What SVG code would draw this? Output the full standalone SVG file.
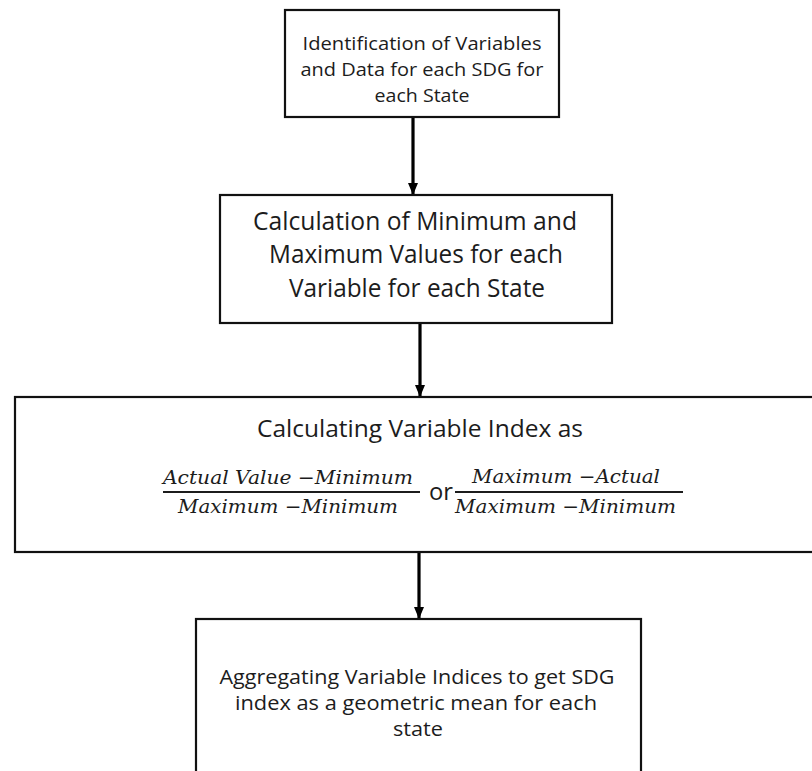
<svg xmlns="http://www.w3.org/2000/svg" width="812" height="771" viewBox="0 0 812 771">
<style>
.box{fill:#fff;stroke:#111;stroke-width:2.2}
.t{font-family:"Open Sans","Noto Sans","Liberation Sans",sans-serif;fill:#1c1c1c;text-anchor:middle}
.m{font-family:"DejaVu Serif","Liberation Serif",serif;font-style:italic;fill:#1c1c1c}
.bar{stroke:#1c1c1c;stroke-width:2}
.conn{stroke:#000;stroke-width:3.2;fill:none}
</style>
<defs>
<marker id="ah" viewBox="0 0 12 10" refX="12" refY="5" markerWidth="12" markerHeight="13" markerUnits="userSpaceOnUse" orient="auto">
<path d="M0,0 L12,5 L0,10 z" fill="#000"/>
</marker>
</defs>
<rect width="812" height="771" fill="#fff"/>
<g id="connectors">
<line class="conn" x1="413" y1="117" x2="413" y2="195" marker-end="url(#ah)"/>
<line class="conn" x1="420" y1="323" x2="420" y2="397" marker-end="url(#ah)"/>
<line class="conn" x1="419" y1="552" x2="419" y2="619" marker-end="url(#ah)"/>
</g>
<g id="node1">
<rect class="box" x="285" y="10" width="274" height="107"/>
<text class="t" font-size="19" x="422" y="50" textLength="239" lengthAdjust="spacingAndGlyphs">Identification of Variables</text>
<text class="t" font-size="19" x="422" y="76" textLength="243" lengthAdjust="spacingAndGlyphs">and Data for each SDG for</text>
<text class="t" font-size="19" x="422" y="102" textLength="95" lengthAdjust="spacingAndGlyphs">each State</text>
</g>
<g id="node2">
<rect class="box" x="220" y="195" width="392" height="128"/>
<text class="t" font-size="25" x="415" y="230" textLength="324" lengthAdjust="spacingAndGlyphs">Calculation of Minimum and</text>
<text class="t" font-size="25" x="416" y="263" textLength="294" lengthAdjust="spacingAndGlyphs">Maximum Values for each</text>
<text class="t" font-size="25" x="417" y="297" textLength="256" lengthAdjust="spacingAndGlyphs">Variable for each State</text>
</g>
<g id="node3">
<rect class="box" x="15" y="397" width="820" height="155"/>
<text class="t" font-size="24" x="420" y="437" textLength="326" lengthAdjust="spacingAndGlyphs">Calculating Variable Index as</text>
<text class="m" font-size="19" x="163" y="484" textLength="250" lengthAdjust="spacingAndGlyphs">Actual  Value −Minimum</text>
<line class="bar" x1="163" y1="492" x2="420" y2="492"/>
<text class="m" font-size="19" x="178" y="513" textLength="220" lengthAdjust="spacingAndGlyphs">Maximum −Minimum</text>
<text class="t" font-size="24" x="441" y="500" textLength="24" lengthAdjust="spacingAndGlyphs">or</text>
<text class="m" font-size="19" x="472" y="483" textLength="188" lengthAdjust="spacingAndGlyphs">Maximum −Actual</text>
<line class="bar" x1="455" y1="492" x2="683" y2="492"/>
<text class="m" font-size="19" x="455" y="513" textLength="221" lengthAdjust="spacingAndGlyphs">Maximum −Minimum</text>
</g>
<g id="node4">
<rect class="box" x="196" y="619" width="445" height="200"/>
<text class="t" font-size="20" x="417" y="684" textLength="395" lengthAdjust="spacingAndGlyphs">Aggregating Variable Indices to get SDG</text>
<text class="t" font-size="20" x="416" y="710" textLength="362" lengthAdjust="spacingAndGlyphs">index as a geometric mean for each</text>
<text class="t" font-size="20" x="418" y="736" textLength="50" lengthAdjust="spacingAndGlyphs">state</text>
</g>
</svg>
